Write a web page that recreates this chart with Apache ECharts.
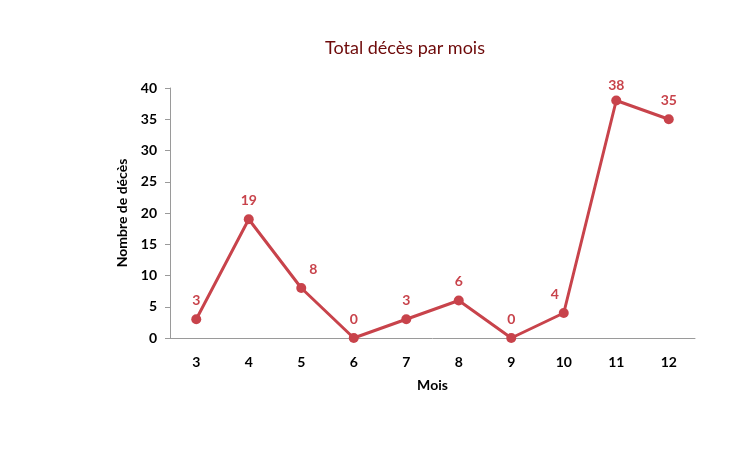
<!DOCTYPE html>
<html><head><meta charset="utf-8">
<script src="https://cdn.jsdelivr.net/npm/echarts@6/dist/echarts.min.js"></script>
<style>html,body{margin:0;padding:0;background:#fff}#c{width:741px;height:453px}</style>
</head><body><div id="c"></div>
<script>
const months = ['3','4','5','6','7','8','9','10','11','12'];
const deaths = [3, 19, 8, 0, 3, 6, 0, 4, 38, 35];
const yTicks = [0, 5, 10, 15, 20, 25, 30, 35, 40];
const FONT = 'Lato, "Open Sans", sans-serif';
const labelOffsets = {2: [12, 0], 7: [-9, 0], 8: [0, 4]};
const chart = echarts.init(document.getElementById('c'));
chart.setOption({
  animation: false,
  title: {text: 'Total décès par mois', left: 400, top: 34, textAlign: 'center',
    textStyle: {color: '#6E0A0A', fontFamily: FONT, fontSize: 18, fontWeight: 'normal'}},
  grid: {left: 170, right: 46, top: 88, bottom: 115},
  xAxis: {type: 'category', data: months, boundaryGap: true,
    name: 'Mois', nameLocation: 'middle', nameGap: 40,
    nameTextStyle: {color: '#000', fontFamily: FONT, fontSize: 14, fontWeight: 'bold'},
    axisLine: {lineStyle: {color: '#9a9a9a', width: 1}},
    axisTick: {show: false},
    axisLabel: {color: '#000', fontFamily: FONT, fontSize: 14, fontWeight: 'bold', margin: 17}},
  yAxis: {type: 'value', min: yTicks[0], max: yTicks[yTicks.length-1], interval: 5,
    name: 'Nombre de décès', nameLocation: 'middle', nameGap: 36,
    nameTextStyle: {color: '#000', fontFamily: FONT, fontSize: 14, fontWeight: 'bold'},
    axisLine: {show: true, lineStyle: {color: '#9a9a9a', width: 1}},
    axisTick: {show: true, length: 5, lineStyle: {color: '#9a9a9a'}},
    splitLine: {show: false},
    axisLabel: {color: '#000', fontFamily: FONT, fontSize: 14, fontWeight: 'bold', margin: 13}},
  series: [{type: 'line',
    data: deaths.map((v, i) => labelOffsets[i] ? {value: v, label: {offset: labelOffsets[i]}} : v),
    symbol: 'circle', symbolSize: 10,
    lineStyle: {color: '#C8434B', width: 3}, itemStyle: {color: '#C8434B'},
    label: {show: true, position: 'top', distance: 7, color: '#C8434B', fontFamily: FONT, fontSize: 14, fontWeight: 'bold'}}]
});
</script></body></html>
